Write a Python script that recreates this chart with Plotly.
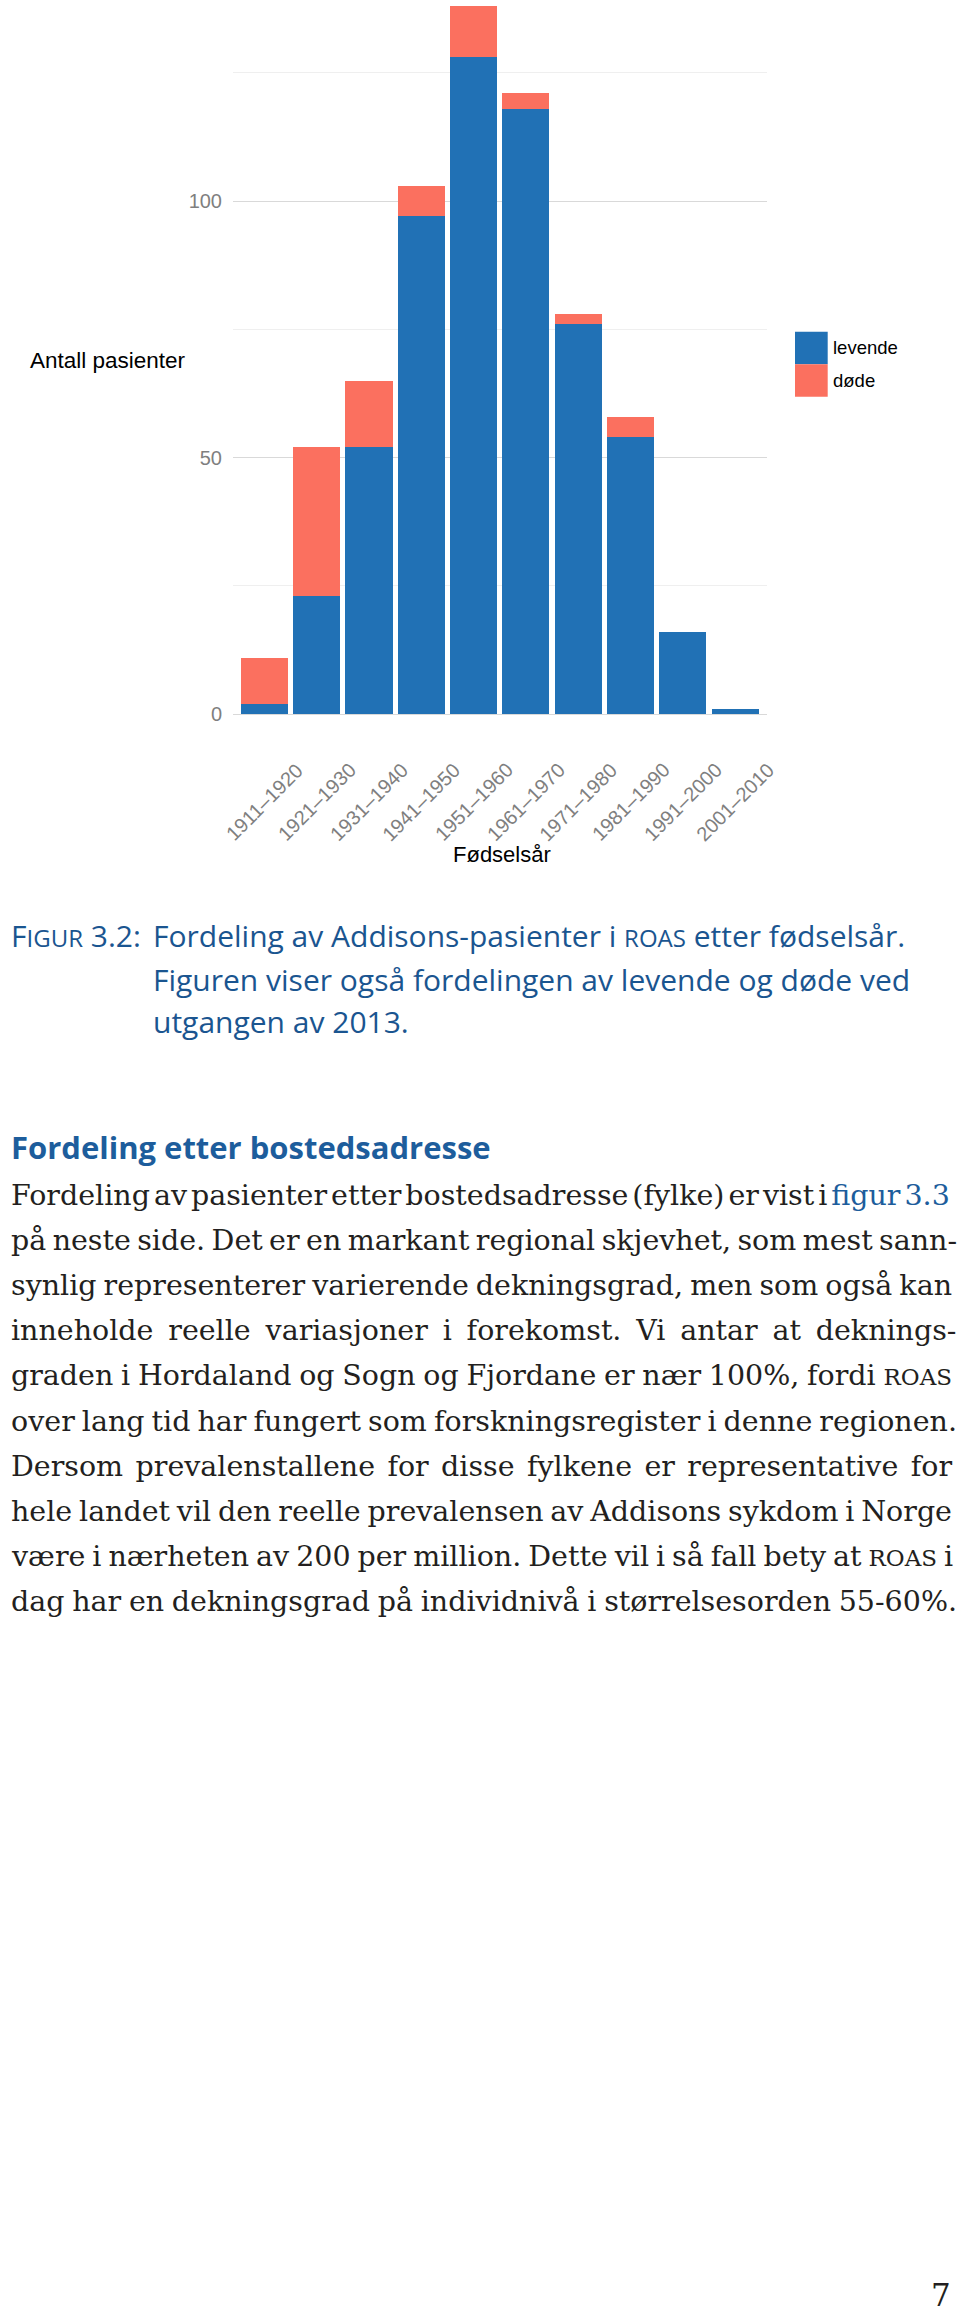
import os
import struct
import plotly.graph_objects as go

# ---------------- data ----------------
categories = ["1911–1920", "1921–1930", "1931–1940", "1941–1950", "1951–1960",
              "1961–1970", "1971–1980", "1981–1990", "1991–2000", "2001–2010"]
levende = [2, 23, 52, 97, 128, 118, 76, 54, 16, 1]
dode = [9, 29, 13, 6, 10, 3, 2, 4, 0, 0]
y_ticks = [0, 50, 100]
y_minor = [25, 75, 125]
series_names = ["levende", "døde"]

caption_lines = [
    "Fordeling av Addisons-pasienter i <span style='font-size:24px'>ROAS</span> etter fødselsår.",
    "Figuren viser også fordelingen av levende og døde ved",
    "utgangen av 2013.",
]
heading = "Fordeling etter bostedsadresse"
# body lines as segments: (text, kind) kind: n = normal, b = blue link, s = small caps
body_lines = [
    [("Fordeling av pasienter etter bostedsadresse (fylke) er vist i ", "n"), ("figur 3.3", "b")],
    [("på neste side. Det er en markant regional skjevhet, som mest sann-", "n")],
    [("synlig representerer varierende dekningsgrad, men som også kan", "n")],
    [("inneholde reelle variasjoner i forekomst. Vi antar at deknings-", "n")],
    [("graden i Hordaland og Sogn og Fjordane er nær 100%, fordi ", "n"), ("ROAS", "s")],
    [("over lang tid har fungert som forskningsregister i denne regionen.", "n")],
    [("Dersom prevalenstallene for disse fylkene er representative for", "n")],
    [("hele landet vil den reelle prevalensen av Addisons sykdom i Norge", "n")],
    [("være i nærheten av 200 per million. Dette vil i så fall bety at ", "n"), ("ROAS", "s"), (" i", "n")],
    [("dag har en dekningsgrad på individnivå i størrelsesorden 55-60%.", "n")],
]
page_number = "7"

# ---------------- style ----------------
W, H = 960, 2316
BLUE = "#2171B5"
RED = "#FB705F"
CAP_BLUE = "#1a5590"
HEAD_BLUE = "#1d5d9c"
TXT = "#231f20"
SANS = "Liberation Sans"
SERIF = "DejaVu Serif"


def py(p):
    return 1 - p / H


def px(x):
    return x / W


# ---- tiny TrueType advance-width reader (for justifying the body text) ----
def find_font(name):
    for root in ["/usr/share/fonts", "/usr/local/share/fonts", os.path.expanduser("~/.fonts")]:
        for dp, dn, fn in os.walk(root):
            if name in fn:
                return os.path.join(dp, name)
    return None


def make_measure(path):
    try:
        d = open(path, "rb").read()
        n = struct.unpack_from(">H", d, 4)[0]
        tabs = {}
        for i in range(n):
            tag, _, off, ln = struct.unpack_from(">4sIII", d, 12 + 16 * i)
            tabs[tag] = off
        upem = struct.unpack_from(">H", d, tabs[b"head"] + 18)[0]
        nhm = struct.unpack_from(">H", d, tabs[b"hhea"] + 34)[0]
        hm = tabs[b"hmtx"]
        adv = [struct.unpack_from(">H", d, hm + 4 * i)[0] for i in range(nhm)]
        cm = tabs[b"cmap"]
        nsub = struct.unpack_from(">H", d, cm + 2)[0]
        sub = None
        for i in range(nsub):
            pid, eid, off = struct.unpack_from(">HHI", d, cm + 4 + 8 * i)
            fmt = struct.unpack_from(">H", d, cm + off)[0]
            if pid == 3 and eid == 1 and fmt == 4:
                sub = cm + off
        segx2 = struct.unpack_from(">H", d, sub + 6)[0]
        seg = segx2 // 2
        ends = struct.unpack_from(">%dH" % seg, d, sub + 14)
        starts = struct.unpack_from(">%dH" % seg, d, sub + 16 + segx2)
        deltas = struct.unpack_from(">%dh" % seg, d, sub + 16 + 2 * segx2)
        roff_pos = sub + 16 + 3 * segx2
        roffs = struct.unpack_from(">%dH" % seg, d, roff_pos)

        def gid(ch):
            c = ord(ch)
            for i in range(seg):
                if ends[i] >= c:
                    if starts[i] > c:
                        return 0
                    if roffs[i] == 0:
                        return (c + deltas[i]) & 0xFFFF
                    addr = roff_pos + 2 * i + roffs[i] + 2 * (c - starts[i])
                    g = struct.unpack_from(">H", d, addr)[0]
                    return (g + deltas[i]) & 0xFFFF if g else 0
            return 0

        def width(text, size):
            tot = 0
            for ch in text:
                g = gid(ch)
                tot += adv[g] if g < nhm else adv[-1]
            return tot * size / upem
        return width
    except Exception:
        return None


fp = find_font("DejaVuSerif.ttf")
measure = make_measure(fp) if fp else None
if measure is None:
    def measure(text, size):
        return 0.6 * size * len(text)

fig = go.Figure()
fig.add_trace(go.Bar(x=categories, y=levende, name=series_names[0], marker_color=BLUE,
                     marker_line_width=0, width=0.9, showlegend=False))
fig.add_trace(go.Bar(x=categories, y=dode, name=series_names[1], marker_color=RED,
                     marker_line_width=0, width=0.9, showlegend=False))

annotations = []

# rotated category labels
for c in categories:
    annotations.append(dict(x=c, xref="x", y=py(802), yref="paper", text=c, textangle=-45,
                            showarrow=False, xanchor="center", yanchor="middle",
                            font=dict(family=SANS, size=20, color="#7f7f7f")))

# axis titles
annotations.append(dict(x=px(28), y=py(361), xref="paper", yref="paper", text="Antall pasienter",
                        showarrow=False, xanchor="left", yanchor="middle",
                        font=dict(family=SANS, size=22.5, color="#000000")))
annotations.append(dict(x=px(502), y=py(854.4), xref="paper", yref="paper", text="Fødselsår",
                        showarrow=False, xanchor="center", yanchor="middle",
                        font=dict(family=SANS, size=22, color="#000000")))

# legend
shapes = [
    dict(type="rect", xref="paper", yref="paper", x0=px(795), x1=px(827.7), y0=py(331.7), y1=py(364.3),
         fillcolor=BLUE, line=dict(width=0)),
    dict(type="rect", xref="paper", yref="paper", x0=px(795), x1=px(827.7), y0=py(364.3), y1=py(396.7),
         fillcolor=RED, line=dict(width=0)),
]
for name, yc in zip(series_names, [348, 380.5]):
    annotations.append(dict(x=px(831), y=py(yc), xref="paper", yref="paper", text=name,
                            showarrow=False, xanchor="left", yanchor="middle",
                            font=dict(family=SANS, size=18.5, color="#000000")))

# caption
CAP_FONT = "Open Sans"
cap_size = 30
cap_k = 0.388 * cap_size
cap_base = [946.7, 990.7, 1033]
annotations.append(dict(x=px(9), y=py(cap_base[0] - cap_k), xref="paper", yref="paper",
                        text="F<span style='font-size:24px'>IGUR</span> 3.2:",
                        showarrow=False, xanchor="left", yanchor="middle",
                        font=dict(family=CAP_FONT, size=cap_size, color=CAP_BLUE)))
for line, b in zip(caption_lines, cap_base):
    annotations.append(dict(x=px(151), y=py(b - cap_k), xref="paper", yref="paper", text=line,
                            showarrow=False, xanchor="left", yanchor="middle",
                            font=dict(family=CAP_FONT, size=cap_size, color=CAP_BLUE)))

# heading
head_size = 31
annotations.append(dict(x=px(9), y=py(1159.3 - 0.388 * head_size), xref="paper", yref="paper",
                        text="<b>" + heading + "</b>", showarrow=False, xanchor="left", yanchor="middle",
                        font=dict(family=CAP_FONT, size=head_size, color=HEAD_BLUE)))

# body (justified with word-spacing)
body_size = 28.5
sc_size = 23
body_k = 0.346 * body_size
left = 10
for i, segs in enumerate(body_lines):
    b = 1205 + 45.2 * i
    full = "".join(t for t, _ in segs)
    nat = sum(measure(t, sc_size if k == "s" else body_size) for t, k in segs)
    last = full.rstrip()[-1]
    right = 956 if last in ".-" else 951
    nsp = full.count(" ")
    ws = (right - left - nat) / nsp if nsp else 0
    parts = []
    for t, k in segs:
        st = "word-spacing:%.2fpx" % ws
        if k == "b":
            st = "color:%s;" % HEAD_BLUE + st
        elif k == "s":
            st = "font-size:%spx;" % sc_size + st
        parts.append("<span style='%s'>%s</span>" % (st, t))
    annotations.append(dict(x=px(left - 1), y=py(b - body_k), xref="paper", yref="paper",
                            text="".join(parts),
                            showarrow=False, xanchor="left", yanchor="middle",
                            font=dict(family=SERIF, size=body_size, color=TXT)))

# page number (kept inside the page)
annotations.append(dict(x=px(953), y=0, xref="paper", yref="paper", text=page_number,
                        showarrow=False, xanchor="right", yanchor="bottom", yshift=1,
                        font=dict(family=SERIF, size=31, color=TXT)))

fig.update_layout(
    width=W, height=H,
    margin=dict(l=0, r=0, t=0, b=0),
    paper_bgcolor="white", plot_bgcolor="white",
    barmode="stack", bargap=0.1,
    showlegend=False,
    xaxis=dict(type="category", range=[-0.6, 9.6], domain=[233 / W, 766.5 / W],
               showticklabels=False, showgrid=False, zeroline=False, showline=False, ticks=""),
    yaxis=dict(range=[-7.0, 139.2], domain=[1 - 750 / H, 1], tickvals=y_ticks,
               showgrid=True, gridcolor="#d9d9d9", gridwidth=1.4, zeroline=False, showline=False,
               ticks="outside", ticklen=6, tickcolor="rgba(0,0,0,0)",
               tickfont=dict(family=SANS, size=20, color="#7f7f7f"),
               minor=dict(tickvals=y_minor, showgrid=True, gridcolor="#efefef", gridwidth=1, ticks="")),
    annotations=annotations,
    shapes=shapes,
)

fig.write_html("out.html")
